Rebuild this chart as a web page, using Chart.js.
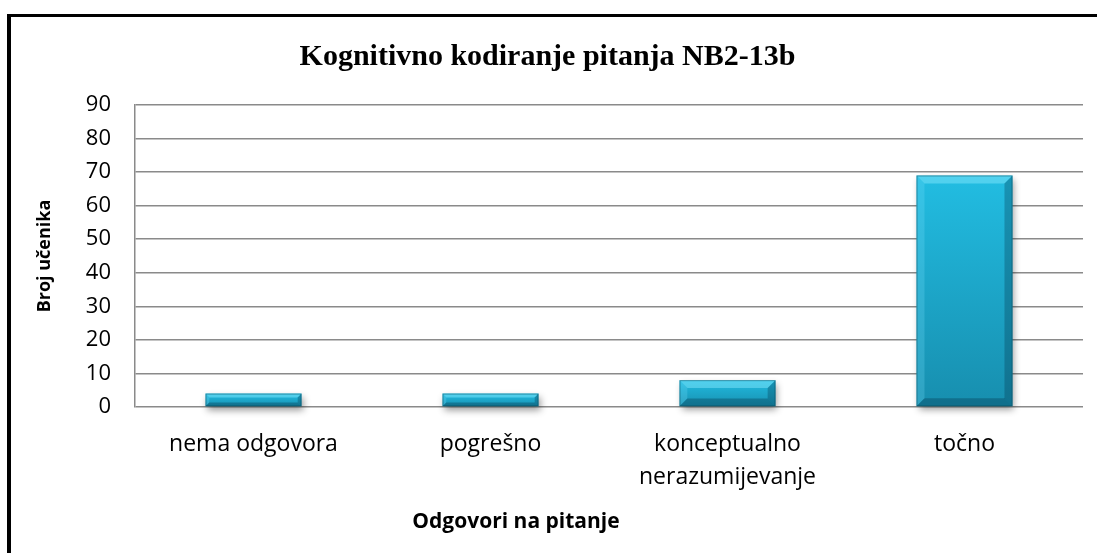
<!DOCTYPE html>
<html>
<head>
<meta charset="utf-8">
<title>Kognitivno kodiranje pitanja NB2-13b</title>
<script src="https://cdn.jsdelivr.net/npm/chart.js@4.4.1/dist/chart.umd.min.js"></script>
<style>
  html, body { margin: 0; padding: 0; background: #fff; }
  #grafikon { display: block; }
</style>
</head>
<body>
<canvas id="grafikon" width="1097" height="553"></canvas>
<script>
// podaci
const odgovori = ['nema odgovora', 'pogrešno', ['konceptualno', 'nerazumijevanje'], 'točno'];
const brojUcenika = [4, 4, 8, 69];
const yOznake = [0, 10, 20, 30, 40, 50, 60, 70, 80, 90];
const naslovX = 'Odgovori na pitanje';

const sivaMreza = '#8a8a8a';

// gradijent za svaki stupac posebno (od vrha stupca do osi)
function bojaStupca(ctx) {
  const chart = ctx.chart;
  if (!chart.chartArea || ctx.type !== 'data') return '#1aa6c8';
  const y = chart.scales.y;
  const vrh = y.getPixelForValue(ctx.raw);
  const dno = y.getPixelForValue(0);
  const g = chart.ctx.createLinearGradient(0, vrh, 0, dno);
  g.addColorStop(0, '#22bde2');
  g.addColorStop(1, '#178eae');
  return g;
}

// sjena ispod stupaca i rubovi (reljef)
const reljef = {
  id: 'reljef',
  beforeDatasetsDraw(chart) {
    const c = chart.ctx;
    c.save();
    c.shadowColor = 'rgba(0, 0, 0, 0.4)';
    c.shadowBlur = 7;
    c.shadowOffsetX = 2;
    c.shadowOffsetY = 4;
  },
  afterDatasetsDraw(chart) {
    const c = chart.ctx;
    c.restore();
    const poligon = (tocke, boja) => {
      c.beginPath();
      c.moveTo(tocke[0][0], tocke[0][1]);
      for (let i = 1; i < tocke.length; i++) c.lineTo(tocke[i][0], tocke[i][1]);
      c.closePath();
      c.fillStyle = boja;
      c.fill();
    };
    chart.getDatasetMeta(0).data.forEach(bar => {
      const l = bar.x - bar.width / 2, r = bar.x + bar.width / 2;
      const t = bar.y, b = bar.base;
      const d = Math.min(8, (b - t) * 0.3);
      c.save();
      poligon([[l, t], [r, t], [r - d, t + d], [l + d, t + d]], 'rgba(140, 235, 255, 0.45)');
      poligon([[l, t], [l + d, t + d], [l + d, b - d], [l, b]], 'rgba(120, 225, 250, 0.25)');
      poligon([[r, t], [r, b], [r - d, b - d], [r - d, t + d]], 'rgba(0, 40, 60, 0.28)');
      poligon([[l, b], [l + d, b - d], [r - d, b - d], [r, b]], 'rgba(0, 40, 60, 0.3)');
      c.strokeStyle = 'rgba(10, 80, 100, 0.5)';
      c.lineWidth = 1;
      c.strokeRect(l + 0.5, t + 0.5, r - l - 1, b - t - 1);
      c.restore();
    });
  }
};

// crni okvir gore i lijevo, naslov osi x
const okvir = {
  id: 'okvir',
  afterDraw(chart) {
    const c = chart.ctx;
    c.save();
    c.fillStyle = '#000';
    c.fillRect(7, 14, 1090, 3);
    c.fillRect(7, 14, 4, 539);
    c.font = 'bold 21px "Open Sans"';
    c.textAlign = 'center';
    c.textBaseline = 'middle';
    c.fillText(naslovX, 516, 522);
    c.restore();
  }
};

const ctx = document.getElementById('grafikon').getContext('2d');

new Chart(ctx, {
  type: 'bar',
  data: {
    labels: odgovori,
    datasets: [{
      data: brojUcenika,
      backgroundColor: bojaStupca,
      borderWidth: 0,
      categoryPercentage: 1,
      barPercentage: 0.405,
      clip: false
    }]
  },
  options: {
    responsive: false,
    animation: false,
    layout: { padding: { left: 12, right: 14, top: 0, bottom: 0 } },
    plugins: {
      legend: { display: false },
      tooltip: { enabled: false },
      title: {
        display: true,
        text: 'Kognitivno kodiranje pitanja NB2-13b',
        color: '#000',
        font: { family: 'Liberation Serif', weight: 'bold', size: 30, lineHeight: 1.2 },
        padding: { top: 39, bottom: 30 }
      }
    },
    scales: {
      x: {
        afterFit(s) { s.height = 146; },
        grid: { display: false },
        border: { display: false },
        ticks: {
          color: '#000',
          padding: 13,
          maxRotation: 0,
          autoSkip: false,
          font: { family: 'Open Sans', size: 23, lineHeight: 1.43 }
        }
      },
      y: {
        min: 0,
        max: 90,
        afterFit(s) { s.width = 123; },
        afterBuildTicks(s) { s.ticks = yOznake.map(v => ({ value: v })); },
        grid: { color: sivaMreza, lineWidth: 1.5, drawTicks: false },
        border: { color: sivaMreza, width: 1.5 },
        ticks: {
          color: '#000',
          padding: 24,
          font: { family: 'Open Sans', size: 22 }
        },
        title: {
          display: true,
          text: 'Broj učenika',
          color: '#000',
          font: { family: 'Open Sans', weight: 'bold', size: 18, lineHeight: 1.2 },
          padding: { top: 22, bottom: 0 }
        }
      }
    }
  },
  plugins: [reljef, okvir]
});
</script>
</body>
</html>
